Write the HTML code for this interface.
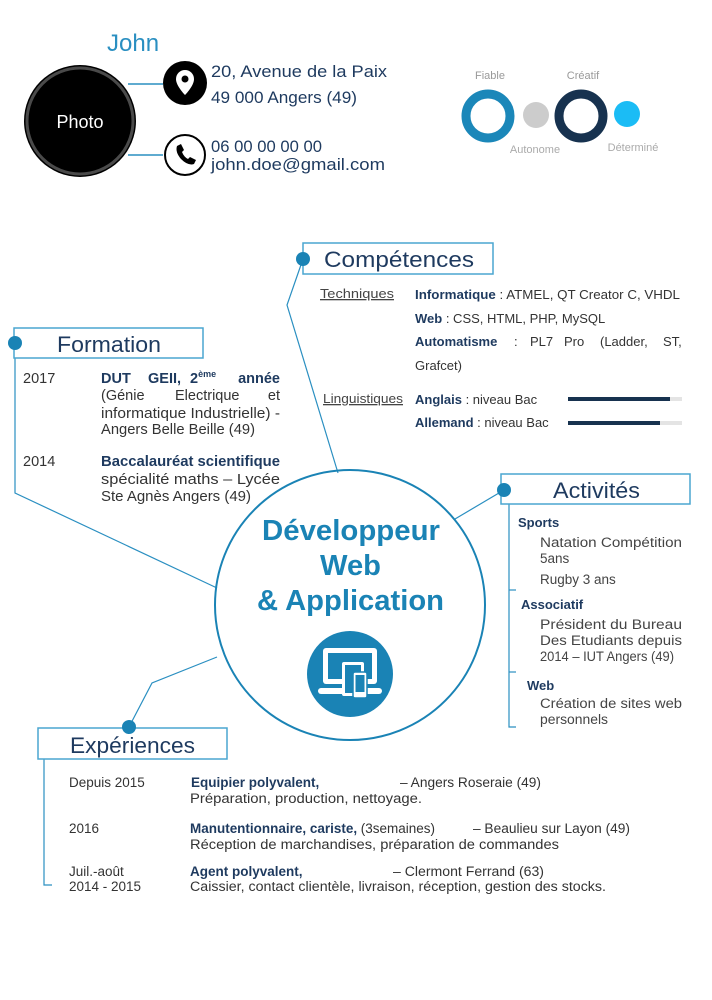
<!DOCTYPE html>
<html><head><meta charset="utf-8"><style>
html,body{margin:0;padding:0;background:#fff}
svg{display:block;font-family:"Liberation Sans",sans-serif}
.d{fill:#1e3a5f}
.b{font-weight:bold}
</style></head><body>
<svg width="712" height="1000" viewBox="0 0 712 1000" xmlns="http://www.w3.org/2000/svg">
<!-- header -->
<text x="107" y="51" font-size="24" fill="#2a8fc1">John</text>
<line x1="128" y1="84" x2="163" y2="84" stroke="#2a8fc1" stroke-width="1.5"/>
<line x1="128" y1="155" x2="163" y2="155" stroke="#2a8fc1" stroke-width="1.5"/>
<circle cx="80" cy="121" r="56" fill="#000"/>
<circle cx="80" cy="121" r="53" fill="none" stroke="#4a4a4a" stroke-width="3"/>
<text x="80" y="128" font-size="18" fill="#fff" text-anchor="middle">Photo</text>
<circle cx="185" cy="83" r="22" fill="#000"/>
<path d="M185 70 a9 9 0 0 1 9 9 c0 7 -9 16 -9 16 c0 0 -9 -9 -9 -16 a9 9 0 0 1 9 -9z" fill="#fff"/>
<circle cx="185" cy="79" r="3.5" fill="#000"/>
<circle cx="185" cy="155" r="20" fill="#fff" stroke="#000" stroke-width="2"/>
<path d="M177 146 l4 -2 l3 6 l-2 2 q2 5 6 7 l2 -2 l6 3 l-2 4 q-6 2 -13 -5 q-6 -7 -4 -13z" fill="#000"/>
<g font-size="17" class="d">
<text x="211" y="77" textLength="176" lengthAdjust="spacingAndGlyphs">20, Avenue de la Paix</text>
<text x="211" y="103" textLength="146" lengthAdjust="spacingAndGlyphs">49 000 Angers (49)</text>
<text x="211" y="152" textLength="111" lengthAdjust="spacingAndGlyphs">06 00 00 00 00</text>
<text x="211" y="170" textLength="174" lengthAdjust="spacingAndGlyphs">john.doe@gmail.com</text>
</g>
<!-- qualities -->
<text x="490" y="79" font-size="11" fill="#999" text-anchor="middle">Fiable</text>
<text x="583" y="79" font-size="11" fill="#999" text-anchor="middle">Créatif</text>
<text x="535" y="153" font-size="11" fill="#aaa" text-anchor="middle">Autonome</text>
<text x="633" y="151" font-size="11" fill="#aaa" text-anchor="middle">Déterminé</text>
<circle cx="488" cy="116" r="22" fill="none" stroke="#1b87b9" stroke-width="9"/>
<circle cx="536" cy="115" r="13" fill="#ccc"/>
<circle cx="581" cy="116" r="22" fill="none" stroke="#17324f" stroke-width="9"/>
<circle cx="627" cy="114" r="13" fill="#1bbcf5"/>
<!-- connectors -->
<g stroke="#2a8fc1" stroke-width="1.2" fill="none">
<polyline points="303,259 287,305 338,473"/>
<polyline points="15,343 15,493 217,588"/>
<line x1="504" y1="490" x2="455" y2="519"/>
<polyline points="129,727 152,683 217,657"/>
<polyline points="509,504 509,727 516,727"/>
<line x1="509" y1="590" x2="516" y2="590"/>
<line x1="509" y1="672" x2="516" y2="672"/>
<polyline points="44,759 44,885 52,885"/>
<circle cx="350" cy="605" r="135" stroke="#1a83b5" stroke-width="2"/>
</g>
<!-- boxes -->
<g fill="#fff" stroke="#4aa6d0" stroke-width="1.5">
<rect x="303" y="243" width="190" height="31"/>
<rect x="14" y="328" width="189" height="30"/>
<rect x="501" y="474" width="189" height="30"/>
<rect x="38" y="728" width="189" height="31"/>
</g>
<g fill="#1a83b5">
<circle cx="303" cy="259" r="7"/><circle cx="15" cy="343" r="7"/>
<circle cx="504" cy="490" r="7"/><circle cx="129" cy="727" r="7"/>
</g>
<g font-size="22" class="d">
<text x="324" y="267" textLength="150" lengthAdjust="spacingAndGlyphs">Compétences</text>
<text x="57" y="352" textLength="104" lengthAdjust="spacingAndGlyphs">Formation</text>
<text x="553" y="498" textLength="87" lengthAdjust="spacingAndGlyphs">Activités</text>
<text x="70" y="753" textLength="125" lengthAdjust="spacingAndGlyphs">Expériences</text>
</g>
<!-- competences -->
<g font-size="13" fill="#333">
<text x="320" y="298" text-decoration="underline" fill="#444" textLength="74" lengthAdjust="spacingAndGlyphs">Techniques</text>
<text x="415" y="299" textLength="265" lengthAdjust="spacingAndGlyphs"><tspan class="b d">Informatique</tspan> : ATMEL, QT Creator C, VHDL</text>
<text x="415" y="323"><tspan class="b d">Web</tspan> : CSS, HTML, PHP, MySQL</text>
<text x="415" y="346" class="b d">Automatisme</text>
<text x="514" y="346">:</text>
<text x="530" y="346">PL7</text>
<text x="564" y="346">Pro</text>
<text x="600" y="346">(Ladder,</text>
<text x="663" y="346">ST,</text>
<text x="415" y="370">Grafcet)</text>
<text x="323" y="403" text-decoration="underline" fill="#444" textLength="80" lengthAdjust="spacingAndGlyphs">Linguistiques</text>
<text x="415" y="404"><tspan class="b d">Anglais</tspan> : niveau Bac</text>
<text x="415" y="427"><tspan class="b d">Allemand</tspan> : niveau Bac</text>
</g>
<rect x="568" y="397" width="114" height="4" fill="#e4e4e4"/><rect x="568" y="397" width="102" height="4" fill="#17324f"/>
<rect x="568" y="421" width="114" height="4" fill="#e4e4e4"/><rect x="568" y="421" width="92" height="4" fill="#17324f"/>
<!-- formation -->
<g font-size="14.5" fill="#333">
<text x="23" y="383">2017</text>
<text x="101" y="383" class="b d">DUT</text><text x="148" y="383" class="b d">GEII,</text>
<text x="190" y="383" class="b d">2<tspan font-size="9" dy="-6">ème</tspan></text>
<text x="280" y="383" class="b d" text-anchor="end">année</text>
<text x="101" y="400">(Génie</text><text x="175" y="400">Electrique</text><text x="280" y="400" text-anchor="end">et</text>
<text x="101" y="418" textLength="179" lengthAdjust="spacingAndGlyphs">informatique Industrielle) -</text>
<text x="101" y="434" textLength="154" lengthAdjust="spacingAndGlyphs">Angers Belle Beille (49)</text>
<text x="23" y="466">2014</text>
<text x="101" y="466" class="b d" textLength="179" lengthAdjust="spacingAndGlyphs">Baccalauréat scientifique</text>
<text x="101" y="484" textLength="179" lengthAdjust="spacingAndGlyphs">spécialité maths – Lycée</text>
<text x="101" y="501" textLength="150" lengthAdjust="spacingAndGlyphs">Ste Agnès Angers (49)</text>
</g>
<!-- center -->
<g font-size="29" font-weight="bold" fill="#1a83b5">
<text x="262" y="540" textLength="178" lengthAdjust="spacingAndGlyphs">Développeur</text>
<text x="320" y="575" textLength="61" lengthAdjust="spacingAndGlyphs">Web</text>
<text x="257" y="610" textLength="187" lengthAdjust="spacingAndGlyphs">&amp; Application</text>
</g>
<circle cx="350" cy="674" r="43" fill="#1a83b5"/>
<rect x="323" y="648" width="54" height="36" rx="3" fill="#fff"/>
<rect x="328" y="653" width="44" height="26" fill="#1a83b5"/>
<rect x="318" y="688" width="64" height="6" rx="3" fill="#fff"/>
<rect x="342" y="662" width="22" height="34" rx="2" fill="#fff"/>
<rect x="345" y="665" width="16" height="28" fill="#1a83b5"/>
<rect x="353" y="672" width="14" height="26" rx="2" fill="#fff" stroke="#1a83b5" stroke-width="1.5"/>
<rect x="355.5" y="675" width="9" height="17" fill="#1a83b5"/>
<!-- activites -->
<g font-size="13.5" fill="#444">
<text x="518" y="527" class="b d" font-size="13">Sports</text>
<text x="540" y="547" textLength="142" lengthAdjust="spacingAndGlyphs">Natation Compétition</text>
<text x="540" y="563">5ans</text>
<text x="540" y="584">Rugby 3 ans</text>
<text x="521" y="609" class="b d" font-size="13">Associatif</text>
<text x="540" y="629" textLength="142" lengthAdjust="spacingAndGlyphs">Président du Bureau</text>
<text x="540" y="645" textLength="142" lengthAdjust="spacingAndGlyphs">Des Etudiants depuis</text>
<text x="540" y="661" textLength="134" lengthAdjust="spacingAndGlyphs">2014 – IUT Angers (49)</text>
<text x="527" y="690" class="b d" font-size="13">Web</text>
<text x="540" y="708" textLength="142" lengthAdjust="spacingAndGlyphs">Création de sites web</text>
<text x="540" y="724" textLength="68" lengthAdjust="spacingAndGlyphs">personnels</text>
</g>
<!-- experiences -->
<g font-size="13.5" fill="#333">
<text x="69" y="787">Depuis 2015</text>
<text x="191" y="787" class="b d">Equipier polyvalent,</text>
<text x="400" y="787" textLength="141" lengthAdjust="spacingAndGlyphs">– Angers Roseraie (49)</text>
<text x="190" y="803" textLength="232" lengthAdjust="spacingAndGlyphs">Préparation, production, nettoyage.</text>
<text x="69" y="833">2016</text>
<text x="190" y="833" textLength="245" lengthAdjust="spacingAndGlyphs"><tspan class="b d">Manutentionnaire, cariste,</tspan> (3semaines)</text>
<text x="473" y="833" textLength="157" lengthAdjust="spacingAndGlyphs">– Beaulieu sur Layon (49)</text>
<text x="190" y="849" textLength="369" lengthAdjust="spacingAndGlyphs">Réception de marchandises, préparation de commandes</text>
<text x="69" y="876">Juil.-août</text>
<text x="69" y="891">2014 - 2015</text>
<text x="190" y="876" class="b d">Agent polyvalent,</text>
<text x="393" y="876" textLength="151" lengthAdjust="spacingAndGlyphs">– Clermont Ferrand (63)</text>
<text x="190" y="891" textLength="416" lengthAdjust="spacingAndGlyphs">Caissier, contact clientèle, livraison, réception, gestion des stocks.</text>
</g>
</svg>
</body></html>
